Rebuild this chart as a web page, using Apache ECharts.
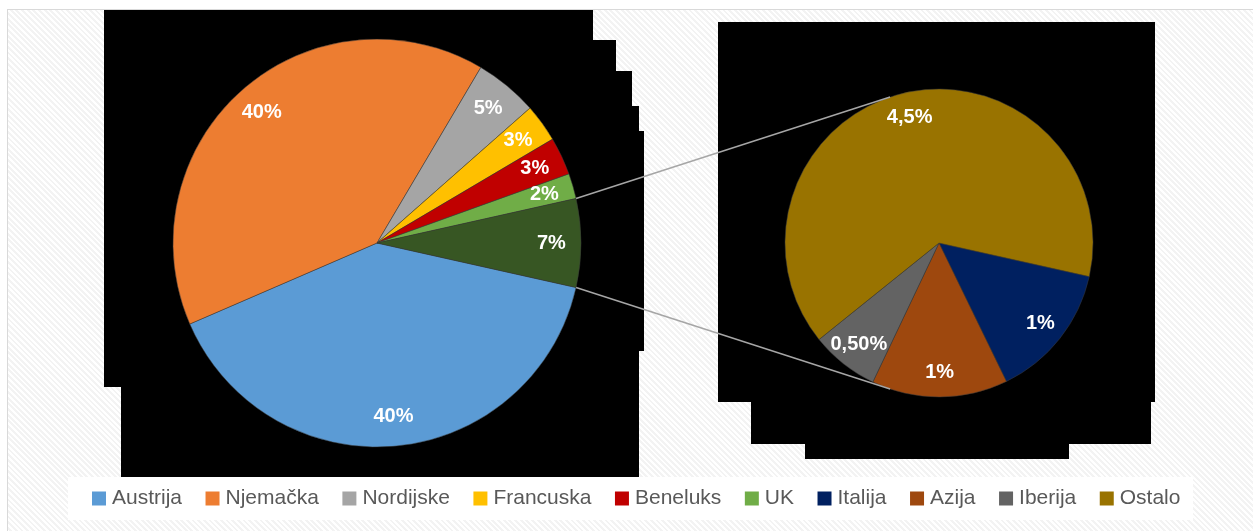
<!DOCTYPE html>
<html>
<head>
<meta charset="utf-8">
<script src="https://cdn.jsdelivr.net/npm/echarts@6/dist/echarts.min.js"></script>
<style>
  html, body { margin: 0; padding: 0; background: #fff; }
  #bg {
    position: absolute; left: 7px; top: 9px; width: 1246px; height: 522px;
    border-left: 1px solid #d9d9d9; border-top: 1px solid #d9d9d9;
    background: repeating-linear-gradient(45deg, #ffffff 0 2px, #f3f3f3 2px 4px);
  }
  #chart { position: absolute; left: 0; top: 0; width: 1253px; height: 531px; }
</style>
</head>
<body>
<div id="bg"></div>
<div id="chart"></div>
<script>
// glavni krug
const mainNames = ['Austrija', 'Njemačka', 'Nordijske', 'Francuska', 'Beneluks', 'UK', 'Ostalo (grupa)']
const mainValues = [40, 40, 5, 3, 3, 2, 7]
const mainLabels = ['40%', '40%', '5%', '3%', '3%', '2%', '7%']
const mainColors = ['#5B9BD5', '#ED7D31', '#A5A5A5', '#FFC000', '#C00000', '#70AD47', '#375623']

// drugi krug (razrada "Ostalo")
const subNames = ['Italija', 'Azija', 'Iberija', 'Ostalo']
const subValues = [1, 1, 0.5, 4.5]
const subLabels = ['1%', '1%', '0,50%', '4,5%']
const subColors = ['#002060', '#9E480E', '#636363', '#997300']

const legendNames = ['Austrija', 'Njemačka', 'Nordijske', 'Francuska', 'Beneluks', 'UK', 'Italija', 'Azija', 'Iberija', 'Ostalo']

const mainCenter = [377, 243]
const mainR = 204
const subCenter = [939, 243]
const subR = 154

const total = mainValues.reduce((a, b) => a + b, 0)
const otherAngle = mainValues[mainValues.length - 1] / total * 360
const startAngle = -otherAngle / 2

const rad = Math.PI / 180
const pt = (c, r, deg) => [c[0] + r * Math.cos(deg * rad), c[1] - r * Math.sin(deg * rad)]

const labelStyle = {
  show: true,
  position: 'inside',
  color: '#fff',
  fontFamily: "'Liberation Sans', Arial, sans-serif",
  fontWeight: 'bold',
  fontSize: 20,
}

const mkData = (names, values, colors) => names.map((n, i) => ({
  name: n, value: values[i], itemStyle: { color: colors[i] },
}))

const chart = echarts.init(document.getElementById('chart'), null, { renderer: 'canvas' })

const blackShapes = [
  [[104, 10], [593, 10], [593, 40], [616, 40], [616, 71], [632, 71], [632, 106], [639, 106], [639, 131],
    [644, 131], [644, 351], [639, 351], [639, 477], [121, 477], [121, 387], [104, 387]],
  [[718, 22], [1155, 22], [1155, 402], [1151, 402], [1151, 444], [1069, 444], [1069, 459], [805, 459],
    [805, 444], [751, 444], [751, 402], [718, 402]],
]

const topA = pt(mainCenter, mainR, otherAngle / 2)
const botA = pt(mainCenter, mainR, -otherAngle / 2)
const topB = pt(subCenter, subR, 108.5)
const botB = pt(subCenter, subR, -108.5)

const option = {
  backgroundColor: 'transparent',
  animation: false,
  graphic: [
    ...blackShapes.map(p => ({ type: 'polygon', z: -10, silent: true, shape: { points: p }, style: { fill: '#000' } })),
    { type: 'rect', z: -10, silent: true, shape: { x: 68, y: 477, width: 1125, height: 43 }, style: { fill: '#fff' } },
    { type: 'line', z: 10, silent: true, shape: { x1: topA[0], y1: topA[1], x2: topB[0], y2: topB[1] }, style: { stroke: '#A6A6A6', lineWidth: 1.5 } },
    { type: 'line', z: 10, silent: true, shape: { x1: botA[0], y1: botA[1], x2: botB[0], y2: botB[1] }, style: { stroke: '#A6A6A6', lineWidth: 1.5 } },
  ],
  legend: {
    data: legendNames,
    left: 92,
    top: 488,
    padding: 0,
    itemWidth: 14,
    itemHeight: 14,
    itemGap: 23.5,
    icon: 'rect',
    selectedMode: false,
    itemStyle: { borderWidth: 0 },
    textStyle: { color: '#595959', fontSize: 21, fontFamily: "'Liberation Sans', Arial, sans-serif", padding: [0, 0, 0, 1] },
  },
  series: [
    {
      type: 'pie',
      center: mainCenter,
      radius: mainR,
      startAngle: startAngle,
      label: { show: false },
      labelLine: { show: false },
      itemStyle: { borderColor: '#3a3a3a', borderWidth: 0.5 },
      emphasis: { disabled: true },
      data: mkData(mainNames, mainValues, mainColors),
    },
    {
      type: 'pie',
      center: subCenter,
      radius: subR,
      startAngle: startAngle,
      label: { show: false },
      labelLine: { show: false },
      itemStyle: { borderColor: '#3a3a3a', borderWidth: 0.5 },
      emphasis: { disabled: true },
      data: mkData(subNames, subValues, subColors),
    },
    // prozirni prstenovi samo za pozicije oznaka
    {
      type: 'pie',
      center: mainCenter,
      radius: [mainR * 0.68, mainR],
      startAngle: startAngle,
      silent: true,
      avoidLabelOverlap: false,
      label: { ...labelStyle, formatter: p => mainLabels[p.dataIndex] },
      labelLine: { show: false },
      itemStyle: { color: 'transparent' },
      emphasis: { disabled: true },
      data: mainNames.map((n, i) => ({ name: n, value: mainValues[i] })),
    },
    {
      type: 'pie',
      center: subCenter,
      radius: [subR * 0.64, subR],
      startAngle: startAngle,
      silent: true,
      avoidLabelOverlap: false,
      label: { ...labelStyle, formatter: p => subLabels[p.dataIndex] },
      labelLine: { show: false },
      itemStyle: { color: 'transparent' },
      emphasis: { disabled: true },
      data: subNames.map((n, i) => ({ name: n, value: subValues[i] })),
    },
  ],
}

chart.setOption(option)
window.addEventListener('resize', () => chart.resize())
</script>
</body>
</html>
